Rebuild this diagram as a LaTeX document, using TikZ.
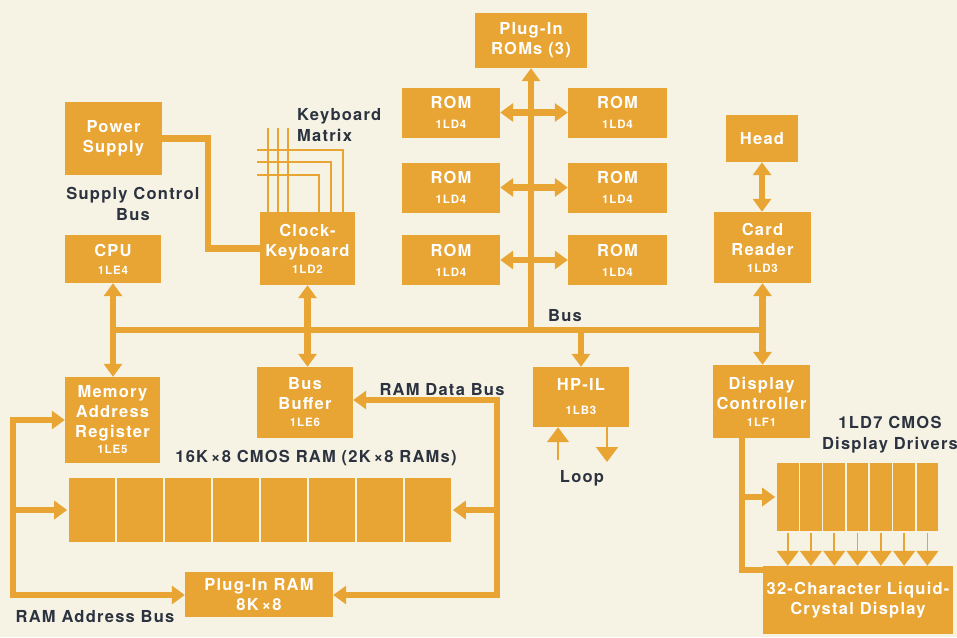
\documentclass[tikz,border=0pt]{standalone}
\usepackage{fontspec}
\setmainfont{TeX Gyre Heros}[LetterSpace=7.5]
\usetikzlibrary{arrows.meta,calc}
\definecolor{bg}{HTML}{F6F3E4}
\definecolor{orn}{HTML}{E8A534}
\definecolor{ink}{HTML}{2C3340}
\newcommand{\partid}[1]{{\fontsize{11.5}{11.5}\selectfont #1}}
\begin{document}
\begin{tikzpicture}[x=1pt,y=-1pt,
  box/.style={fill=orn, text=white, inner sep=0pt, align=center,
    font=\bfseries\fontsize{16.5}{20}\selectfont},
  cell/.style={fill=orn, draw=bg, line width=1.6pt, inner sep=0pt},
  lab/.style={text=ink, inner sep=0pt, align=center,
    font=\bfseries\fontsize{16.5}{21}\selectfont},
  bus/.style={draw=orn, line width=6.5pt},
  kb/.style={draw=orn, line width=1.3pt},
  thinl/.style={draw=orn, line width=1.8pt},
  BusTip/.tip={Triangle[width=18pt,length=13pt]},
  LoopTip/.tip={Triangle[width=19pt,length=13pt,scale=1.15]},
]
\fill[bg] (0,0) rectangle (957,637);
\useasboundingbox (0,0) rectangle (957,637);

% ---------- boxes ----------
\node[box, minimum width=112pt, minimum height=55pt] (plugrom) at (531,40.5) {Plug-In\\ROMs (3)};
\foreach \r/\y in {1/112.5, 2/187.5, 3/260}{
  \node[box, minimum width=98pt, minimum height=50pt] (romL\r) at (451,\y) {ROM\\[0pt]\partid{1LD4}};
  \node[box, minimum width=99pt, minimum height=50pt] (romR\r) at (617.5,\y) {ROM\\[0pt]\partid{1LD4}};
}
\node[box, minimum width=97pt, minimum height=73pt] (power) at (113.5,138.5) {Power\\Supply};
\node[box, minimum width=96pt, minimum height=48pt] (cpu) at (113,259) {CPU\\[-2pt]\partid{1LE4}};
\node[box, minimum width=95pt, minimum height=73pt] (clock) at (307.5,248.5) {Clock-\\Keyboard\\[-3pt]\partid{1LD2}};
\node[box, minimum width=72pt, minimum height=47pt] (head) at (762,138.5) {Head};
\node[box, minimum width=97pt, minimum height=71pt] (card) at (762.5,247.5) {Card\\Reader\\[-3pt]\partid{1LD3}};
\node[box, minimum width=95pt, minimum height=86pt] (mar) at (112.5,420) {Memory\\Address\\Register\\[-4pt]\partid{1LE5}};
\node[box, minimum width=96pt, minimum height=71pt] (busbuf) at (305,402.5) {Bus\\Buffer\\[-3pt]\partid{1LE6}};
\node[box, minimum width=96pt, minimum height=60pt] (hpil) at (581,397) {HP-IL\\[4pt]\partid{1LB3}};
\node[box, minimum width=97pt, minimum height=73pt] (disp) at (761.5,401.5) {Display\\Controller\\[-3pt]\partid{1LF1}};
\foreach \i in {1,...,8}{
  \node[cell, minimum width=48pt, minimum height=66pt] (r\i) at ({68+48*(\i-0.5)},510) {};
}
\node[box, minimum width=148pt, minimum height=45pt] (plugram) at (259,594.5) {Plug-In RAM\\8K\,×8};
\foreach \i in {1,...,7}{
  \node[cell, minimum width=23.29pt, minimum height=70pt] (d\i) at ({776+23.29*(\i-0.5)},497) {};
}
\node[box, minimum width=190pt, minimum height=68pt] (lcd) at (858,600) {32-Character Liquid-\\Crystal Display};

% ---------- labels ----------
\node[lab] (lsupply) at (133,204) {Supply Control\\Bus};
\node[lab, anchor=west, align=left] (lkbd) at (297,125) {Keyboard\\Matrix};
\node[lab] (lbus) at (565,316) {Bus};
\node[lab] (lramdata) at (442,390) {RAM Data Bus};
\node[lab] (lram) at (316,458) {16K\,×8 CMOS RAM (2K\,×8 RAMs)};
\node[lab] (lloop) at (582,478) {Loop};
\node[lab] (ldrv) at (890,435) {1LD7 CMOS\\Display Drivers};
\node[lab] (lramaddr) at (95,617) {RAM Address Bus};

% ---------- keyboard matrix ----------
\foreach \x in {268,278,288}{
  \draw[kb] (\x,128) -- (\x,212);
}
\draw[kb] (257,150) -- (343,150) -- (343,212);
\draw[kb] (257,162) -- (331,162) -- (331,212);
\draw[kb] (257,175) -- (319,175) -- (319,212);

% ---------- main bus ----------
\coordinate (busL) at (113,330);
\coordinate (busR) at (762.5,330);
\draw[bus] (busL) -- (busR);
\draw[bus, BusTip-BusTip] (cpu.south) -- (cpu.south |- mar.north);
\draw[bus, BusTip-BusTip] (clock.south) -- (clock.south |- busbuf.north);
\draw[bus, -BusTip] (hpil.north |- busL) -- (hpil.north);
\draw[bus, BusTip-BusTip] (card.south) -- (card.south |- disp.north);
\draw[bus, BusTip-BusTip] (head.south) -- (head.south |- card.north);
\draw[bus, -BusTip] (plugrom.south |- busL) -- (plugrom.south);
\foreach \r in {1,2,3}{
  \draw[bus, BusTip-BusTip] (romL\r.east) -- (romR\r.west);
}

% ---------- supply control bus ----------
\draw[bus] (power.east) -- ++(46,0) |- (clock.west);

% ---------- RAM data bus ----------
\coordinate (rdtop) at (497,400);
\coordinate (rdbot) at (497,595);
\draw[bus, line cap=rect] (rdtop) -- (rdbot);
\draw[bus, -BusTip] (rdtop) -- (rdtop -| busbuf.east);
\draw[bus, -BusTip] (rdtop |- r8.east) -- (r8.east);
\draw[bus, -BusTip] (rdbot) -- (rdbot -| plugram.east);

% ---------- RAM address bus ----------
\coordinate (ratop) at (13,420);
\coordinate (rabot) at (13,595);
\draw[bus, line cap=rect] (ratop) -- (rabot);
\draw[bus, -BusTip] (ratop) -- (ratop -| mar.west);
\draw[bus, -BusTip] (ratop |- r1.west) -- (r1.west);
\draw[bus, -BusTip] (rabot) -- (rabot -| plugram.west);

% ---------- HP-IL loop ----------
\coordinate (loopin) at (558,460);
\coordinate (loopout) at (607,462);
\draw[thinl, -LoopTip] (loopin) -- (loopin |- hpil.south);
\draw[thinl, -LoopTip] (loopout |- hpil.south) -- (loopout);

% ---------- display ----------
\coordinate (dcorner) at (742,570);
\draw[bus] (dcorner |- disp.south) -- (dcorner) -- (dcorner -| lcd.west);
\draw[bus, -BusTip] (dcorner |- d1.west) -- (d1.west);
\foreach \i in {1,...,7}{
  \draw[thinl, -LoopTip] (d\i.south) -- (d\i.south |- lcd.north);
}
\end{tikzpicture}
\end{document}
